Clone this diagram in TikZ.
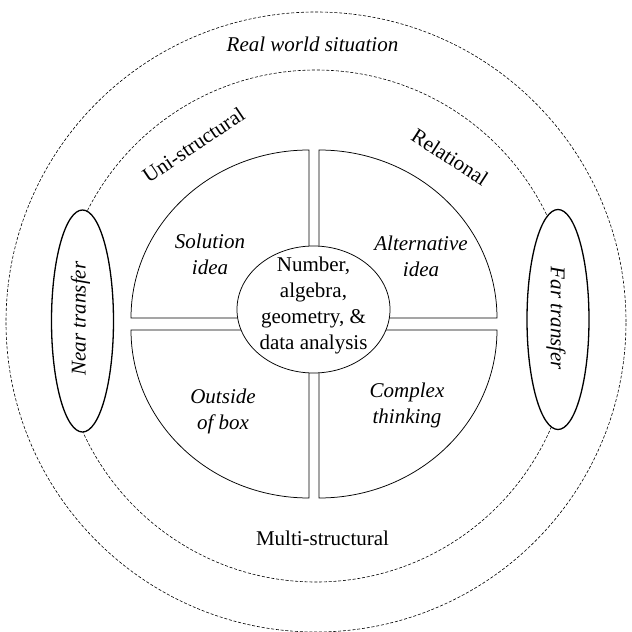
\documentclass[tikz,border=0pt]{standalone}
\usepackage{fontspec}
\setmainfont{Liberation Serif}
\tikzset{
  ring/.style={dash pattern=on 3pt off 1.8pt,line width=0.6pt},
  part/.style={line width=0.75pt},
  lbl/.style={font=\fontsize{21}{26}\selectfont,align=center,inner sep=0pt},
  itlbl/.style={lbl,font=\fontsize{21}{26}\selectfont\itshape}
}
\begin{document}
\begin{tikzpicture}[x=1pt,y=1pt]
\useasboundingbox (-316,-310) rectangle (316,322);
    \draw[ring] (0,0) circle(310);
    \draw[ring] (0,-4) circle(256);
    % the four parts
    \draw[part] (-7,4) -- (-7,172) arc[start angle=90,end angle=180,x radius=178,y radius=168] -- cycle;
    \draw[part] (3,4) -- (181,4) arc[start angle=0,end angle=90,x radius=178,y radius=168] -- cycle;
    \draw[part] (-7,-8) -- (-185,-8) arc[start angle=180,end angle=270,x radius=178,y radius=168] -- cycle;
    \draw[part] (3,-8) -- (3,-176) arc[start angle=270,end angle=360,x radius=178,y radius=168] -- cycle;
    \draw[part,fill=white] (-2.5,12.5) ellipse(76.5 and 63.5);
    \draw[line width=1.3pt,fill=white] (-233.5,1) ellipse(31 and 111) (242,2.5) ellipse(31 and 110);
\node[itlbl] (world) at (-3.5,278) {Real world situation};
\node[lbl] (multi) at (6.5,-216) {Multi-structural};
\node[lbl,rotate=34] (uni) at (-122.5,177) {Uni-structural};
\node[lbl,rotate=-33] (rel) at (134,165) {Relational};
\node[itlbl,rotate=90] (near) at (-235.5,3.5) {Near transfer};
\node[itlbl,rotate=-90] (far) at (240,3.5) {Far transfer};
\node[itlbl] (sol) at (-106,68) {Solution\\idea};
\node[itlbl] (alt) at (105,66) {Alternative\\idea};
\node[itlbl] (box) at (-93,-89) {Outside\\of box};
\node[itlbl] (cplx) at (91,-83) {Complex\\thinking};
\node[lbl] (core) at (-2.5,17) {Number,\\algebra,\\geometry, \&\\data analysis};
\end{tikzpicture}
\end{document}
